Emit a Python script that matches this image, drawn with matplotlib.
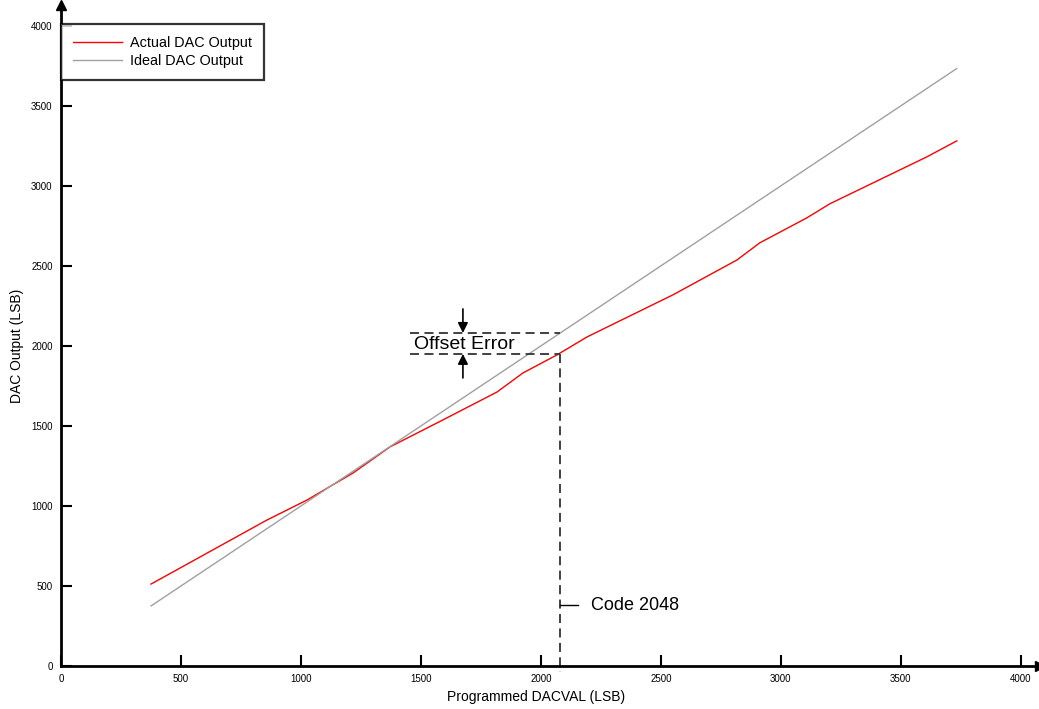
import matplotlib
matplotlib.use("Agg")
import matplotlib.pyplot as plt

plt.rcParams['font.family'] = ['Liberation Sans', 'DejaVu Sans']

# Data
ideal_x = [375, 3733]
ideal_y = [375, 3733]
actual_x = [375, 579, 858, 1025, 1217, 1371, 1592, 1817, 1925, 2067, 2192, 2550, 2817, 2912, 3108, 3204, 3608, 3733]
actual_y = [512, 681, 912, 1037, 1206, 1369, 1538, 1712, 1831, 1944, 2056, 2319, 2537, 2644, 2800, 2888, 3181, 3281]
xticks = [0, 500, 1000, 1500, 2000, 2500, 3000, 3500, 4000]
yticks = [0, 500, 1000, 1500, 2000, 2500, 3000, 3500, 4000]
code_x = 2079
ideal_at_code = 2081
actual_at_code = 1950

fig = plt.figure(figsize=(10.39, 7.09), dpi=100)
ax = fig.add_axes([61/1039, 43/709, 979/1039, 661/709])
ax.set_xlim(0, 4080)
ax.set_ylim(0, 4130)

l1, = ax.plot(actual_x, actual_y, color='#ff0000', lw=1.0, label='Actual DAC Output')
l2, = ax.plot(ideal_x, ideal_y, color='#a0a0a0', lw=1.0, label='Ideal DAC Output')

# spines
for s in ['top', 'right']:
    ax.spines[s].set_visible(False)
for s in ['left', 'bottom']:
    ax.spines[s].set_linewidth(2.0)
ax.plot(1, 0, '>', color='black', ms=7, transform=ax.transAxes, clip_on=False)
ax.plot(0, 1, '^', color='black', ms=7, transform=ax.transAxes, clip_on=False)

ax.set_xticks(xticks)
ax.set_yticks(yticks)
ax.set_xticklabels([str(v) for v in xticks], fontsize=7)
ax.set_yticklabels([str(v) for v in yticks], fontsize=7)
ax.tick_params(direction='in', length=8, width=1.5, pad=6)
ax.set_xlabel('Programmed DACVAL (LSB)', fontsize=10)
ax.set_ylabel('DAC Output (LSB)', fontsize=10)
ax.xaxis.set_label_coords(0.485, -0.036)
ax.yaxis.set_label_coords(-0.038, 0.485)

# annotations
dash = dict(color='#333333', lw=1.3, ls=(0, (5, 3)))
ax.plot([1454, code_x], [ideal_at_code, ideal_at_code], **dash)
ax.plot([1454, code_x], [actual_at_code, actual_at_code], **dash)
ax.plot([code_x, code_x], [actual_at_code, -40], clip_on=False, **dash)
ax.annotate('', xy=(1675, ideal_at_code), xytext=(1675, ideal_at_code + 150),
            arrowprops=dict(arrowstyle='-|>', color='black', lw=1.2, mutation_scale=15, shrinkA=0, shrinkB=0))
ax.annotate('', xy=(1675, actual_at_code), xytext=(1675, actual_at_code - 150),
            arrowprops=dict(arrowstyle='-|>', color='black', lw=1.2, mutation_scale=15, shrinkA=0, shrinkB=0))
ax.text(1680, 2010, 'Offset Error', fontsize=14, ha='center', va='center')
ax.plot([code_x, code_x + 75], [381, 381], color='black', lw=1.0)
ax.text(2208, 375, 'Code 2048', fontsize=13, ha='left', va='center')

leg = ax.legend(handles=[l1, l2], loc='upper left', bbox_to_anchor=(0, 4010/4130),
                borderaxespad=0, fontsize=10.4, frameon=True, fancybox=False,
                handlelength=3.4, handletextpad=0.6, borderpad=0.8, labelspacing=0.32)
leg.get_frame().set_edgecolor('black')
leg.get_frame().set_linewidth(1.6)

fig.savefig('out.png', dpi=100)
